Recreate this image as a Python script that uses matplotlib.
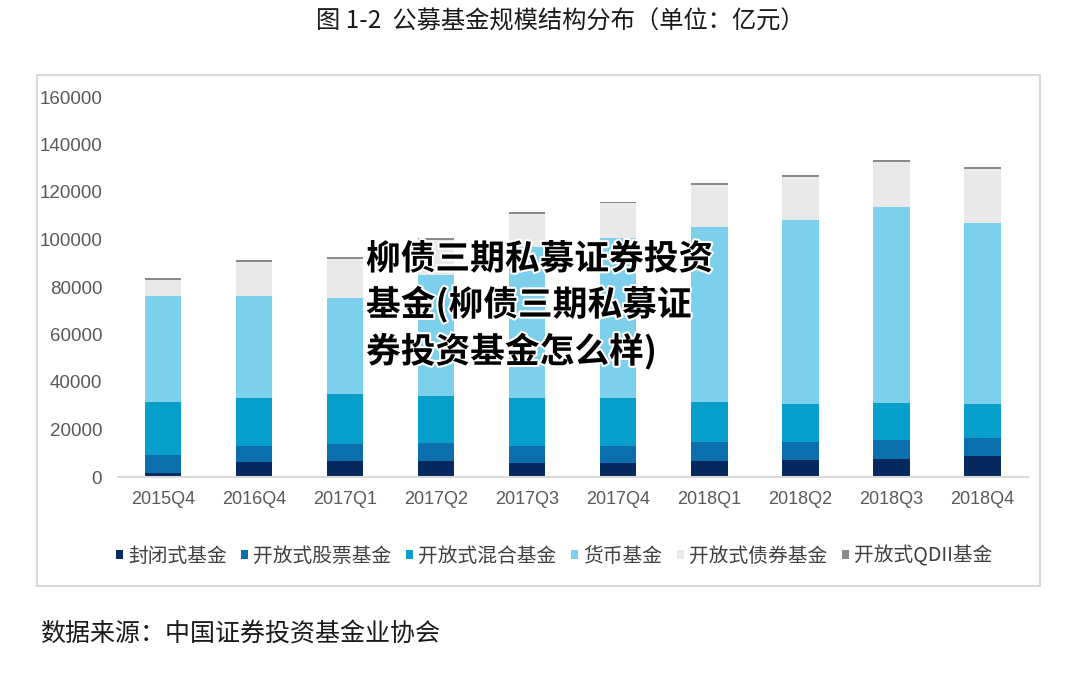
# -*- coding: utf-8 -*-
# Stacked bar chart: public fund size structure (unit: 100 million yuan)
import numpy as np
import matplotlib
matplotlib.use('Agg')
import matplotlib.pyplot as plt
import matplotlib.patheffects as pe
from matplotlib.patches import Rectangle

plt.rcParams['font.family'] = ['Noto Sans CJK SC', 'DejaVu Sans']

# -- Data
quarters = ['2015Q4', '2016Q4', '2017Q1', '2017Q2', '2017Q3',
            '2017Q4', '2018Q1', '2018Q2', '2018Q3', '2018Q4']
closed = [1800, 6200, 6900, 6900, 6000, 6000, 6900, 7200, 7600, 8800]
stock  = [7500, 7000, 7100, 7300, 7050, 7050, 7700, 7700, 8000, 7700]
mixed  = [22300, 20000, 21000, 19900, 20100, 20100, 17100, 15800, 15400, 14200]
money  = [44600, 42900, 40300, 51000, 63800, 67400, 73700, 77500, 82800, 76300]
bond   = [6950, 14400, 16700, 14700, 13800, 14700, 17500, 18200, 18900, 22600]
qdii   = [700, 750, 700, 720, 720, 700, 720, 720, 720, 750]
series_names = ['封闭式基金', '开放式股票基金', '开放式混合基金',
                '货币基金', '开放式债券基金', '开放式QDII基金']
yticks = [0, 20000, 40000, 60000, 80000, 100000, 120000, 140000, 160000]

# -- Plot settings
colors = ['#06295f', '#0b6fae', '#08a0cb', '#7dd0ec', '#e9e9e9', '#8a8a8a']
tick_clr = '#595959'
W, H = 1080, 673

fig = plt.figure(figsize=(W / 100, H / 100), dpi=100)
ax = fig.add_axes([117.5 / W, 1 - 477 / H, 910.5 / W, 380 / H])

# -- Stacked bars
x = np.arange(len(quarters))
bottom = np.zeros(len(quarters))
handles = []
for name, vals, clr in zip(series_names,
                           [closed, stock, mixed, money, bond, qdii], colors):
    b = ax.bar(x, vals, width=0.4, bottom=bottom, color=clr, label=name,
               linewidth=0)
    handles.append(b)
    bottom += np.array(vals)

# -- Axes styling
ax.set_xlim(-0.5, 9.5)
ax.set_ylim(0, 160000)
ax.set_yticks(yticks)
ax.set_yticklabels([str(v) for v in yticks], family='Liberation Sans',
                   fontsize=13.5, color=tick_clr)
ax.set_xticks(x)
ax.set_xticklabels(quarters, family='Liberation Sans', fontsize=13,
                   color=tick_clr)
ax.tick_params(axis='y', length=0, pad=11)
ax.tick_params(axis='x', length=0, pad=10)
for s in ['left', 'right', 'top']:
    ax.spines[s].set_visible(False)
ax.spines['bottom'].set_color('#d9d9d9')
ax.spines['bottom'].set_linewidth(1.5)

# -- Legend
fig.legend(handles=handles, labels=series_names, loc='center',
           bbox_to_anchor=(554 / W, 1 - 556 / H), ncol=6, frameon=False,
           fontsize=14.2, handlelength=0.35, handleheight=0.35,
           handletextpad=0.25, columnspacing=0.75, labelcolor='#404040')

# -- Frame around the chart
fig.add_artist(Rectangle((37 / W, 1 - 586 / H), (1040 - 37) / W,
                         (586 - 75) / H, transform=fig.transFigure,
                         fill=False, edgecolor='#d9d9d9', linewidth=1.5))

# -- Title and source
fig.text(560 / W, 1 - 22 / H, '图 1-2  公募基金规模结构分布（单位：亿元）',
         ha='center', va='center', fontsize=17.5, fontweight='medium',
         color='#1a1a1a')
fig.text(40 / W, 1 - 635 / H, '数据来源：中国证券投资基金业协会',
         ha='left', va='center', fontsize=18, color='#1a1a1a')

# -- Overlay text
overlay = ['柳债三期私募证券投资', '基金(柳债三期私募证', '券投资基金怎么样)']
for line, yc in zip(overlay, [259, 304, 351]):
    fig.text(366 / W, 1 - yc / H, line, ha='left', va='center',
             fontsize=25, fontweight='heavy', color='black',
             path_effects=[pe.withStroke(linewidth=3, foreground='white')])

plt.savefig('out.png', dpi=100)
plt.close(fig)
